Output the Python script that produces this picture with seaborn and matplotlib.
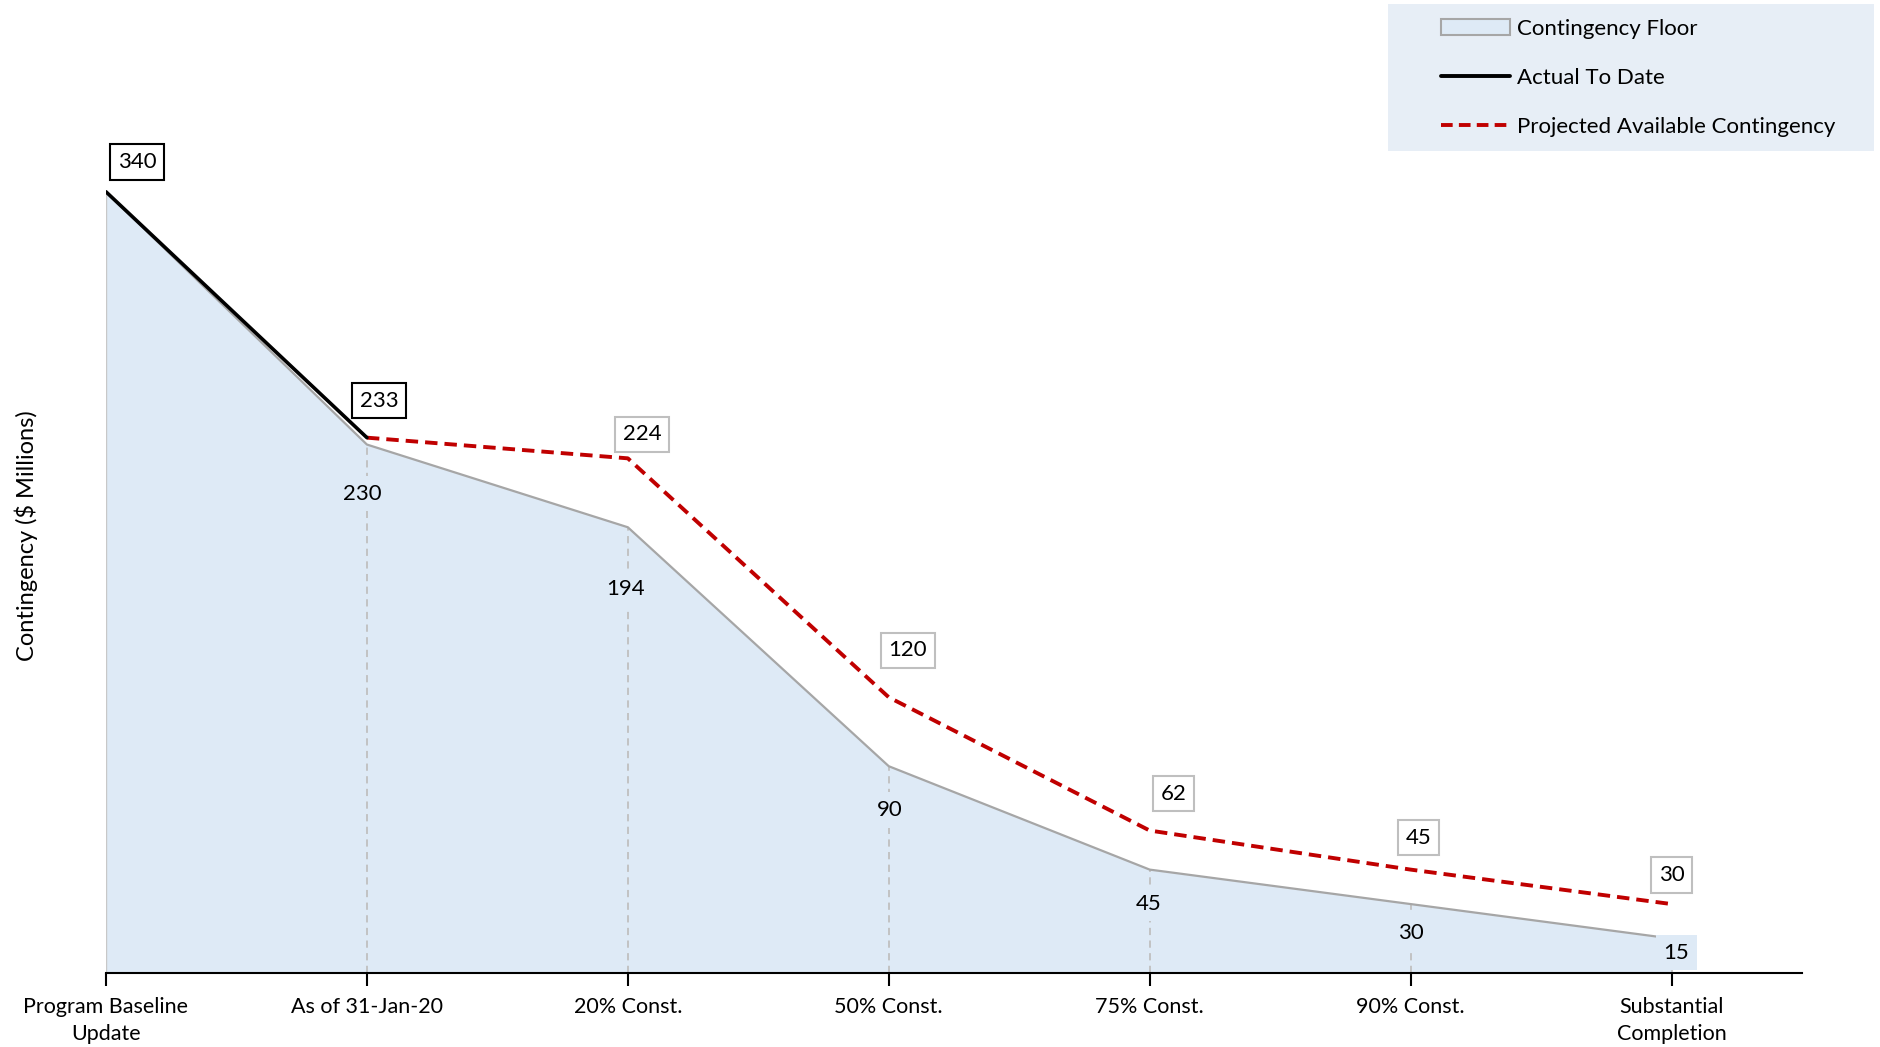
import pandas as pd
import numpy as np
import seaborn as sns
import matplotlib.pyplot as plt
from matplotlib.patches import Patch, Rectangle
from matplotlib.lines import Line2D

# data
stages = ['Program Baseline\nUpdate', 'As of 31-Jan-20', '20% Const.', '50% Const.',
          '75% Const.', '90% Const.', 'Substantial\nCompletion']
floor = [340, 230, 194, 90, 45, 30, 15]
actual = [340, 233]
projected = [233, 224, 120, 62, 45, 30]

# label offsets (pixels)
box_offsets = [(31, 30), (12, 37), (14, 24), (19, 47), (24, 37), (8, 32), (0, 29)]
floor_offsets = [(-5, -49), (-2, -62), (1, -44), (-1, -34), (0, -29), (5, -14)]

fill_col = '#DEEAF6'
floor_col = '#A6A6A6'
red = '#C00000'

sns.set_theme(style='white')
plt.rcParams['font.family'] = ['Lato', 'DejaVu Sans']

fig = plt.figure(figsize=(18.81, 10.47), dpi=100)
ax = fig.add_axes([106 / 1881, 74 / 1047, (1802 - 106) / 1881, 965 / 1047])

x_all = np.arange(len(stages))
df_floor = pd.DataFrame({'x': x_all, 'y': floor})
df_act = pd.DataFrame({'x': x_all[:len(actual)], 'y': actual})
df_proj = pd.DataFrame({'x': x_all[1:1 + len(projected)], 'y': projected})

ax.fill_between(df_floor.x, 0, df_floor.y, color=fill_col, lw=0, zorder=1)
ax.vlines(df_floor.x[1:], 0, df_floor.y[1:], colors='#BFBFBF', linestyles=(0, (4, 3)), lw=1.3, zorder=2)
ax.vlines([0], 0, floor[0], colors='#C8C8C8', lw=1.0, zorder=2)

sns.lineplot(data=df_floor, x='x', y='y', color=floor_col, lw=1.6, ax=ax, zorder=3)
sns.lineplot(data=df_proj, x='x', y='y', color=red, lw=2.8, ax=ax, zorder=4)
ax.lines[-1].set_dashes((3.2, 1.8))
sns.lineplot(data=df_act, x='x', y='y', color='black', lw=2.6, ax=ax, zorder=5)

# boxed labels: actual then projected
box_vals = [(0, actual[0], 'black'), (1, actual[1], 'black')]
for i, v in enumerate(projected[1:]):
    box_vals.append((i + 2, v, '#BFBFBF'))
for (xi, v, ec), (dx, dy) in zip(box_vals, box_offsets):
    ax.annotate(str(v), (xi, v), xytext=(dx, dy), textcoords='offset pixels',
                ha='center', va='center', fontsize=16, color='black', zorder=6,
                bbox=dict(boxstyle='square,pad=0.35', fc='white', ec=ec, lw=1.5))

# floor labels
for xi, (dx, dy) in zip(x_all[1:], floor_offsets):
    ax.annotate(str(floor[xi]), (xi, floor[xi]), xytext=(dx, dy), textcoords='offset pixels',
                ha='center', va='center', fontsize=16, color='black', zorder=6,
                bbox=dict(boxstyle='square,pad=0.35', fc=fill_col, ec='none'))

ax.set_xlim(0, 6.5)
ax.set_ylim(0, 420)
ax.set_xticks(x_all)
ax.set_xticklabels(stages, fontsize=15.5, color='black', linespacing=1.45)
ax.set_yticks([])
ax.set_xlabel('')
ax.set_ylabel('')
for s in ['left', 'right', 'top']:
    ax.spines[s].set_visible(False)
ax.spines['bottom'].set_color('black')
ax.spines['bottom'].set_linewidth(1.5)
ax.tick_params(axis='x', bottom=True, length=9, width=1.5, color='black', direction='out', pad=8)

fig.text(26 / 1881, 1 - 536 / 1047, 'Contingency ($ Millions)', rotation=90,
         ha='center', va='center', fontsize=17, color='black')

# legend background
fig.patches.append(Rectangle((1388 / 1881, 1 - 151 / 1047), (1874 - 1388) / 1881, 147 / 1047,
                             transform=fig.transFigure, fc='#E7EEF6', ec='none', zorder=0))

handles = [Patch(facecolor=fill_col, edgecolor=floor_col, lw=1.5),
           Line2D([], [], color='black', lw=2.8),
           Line2D([], [], color=red, lw=2.8, dashes=(3, 1.6))]
labels = ['Contingency Floor', 'Actual To Date', 'Projected Available Contingency']
leg = fig.legend(handles, labels, loc='upper left', bbox_to_anchor=(1441 / 1881, 1 - 19 / 1047),
                 fontsize=16, frameon=False, borderpad=0, labelspacing=1.31, handlelength=3.1,
                 handletextpad=0.3, borderaxespad=0)
for t in leg.get_texts():
    t.set_color('black')

fig.savefig('out.png', dpi=100)
